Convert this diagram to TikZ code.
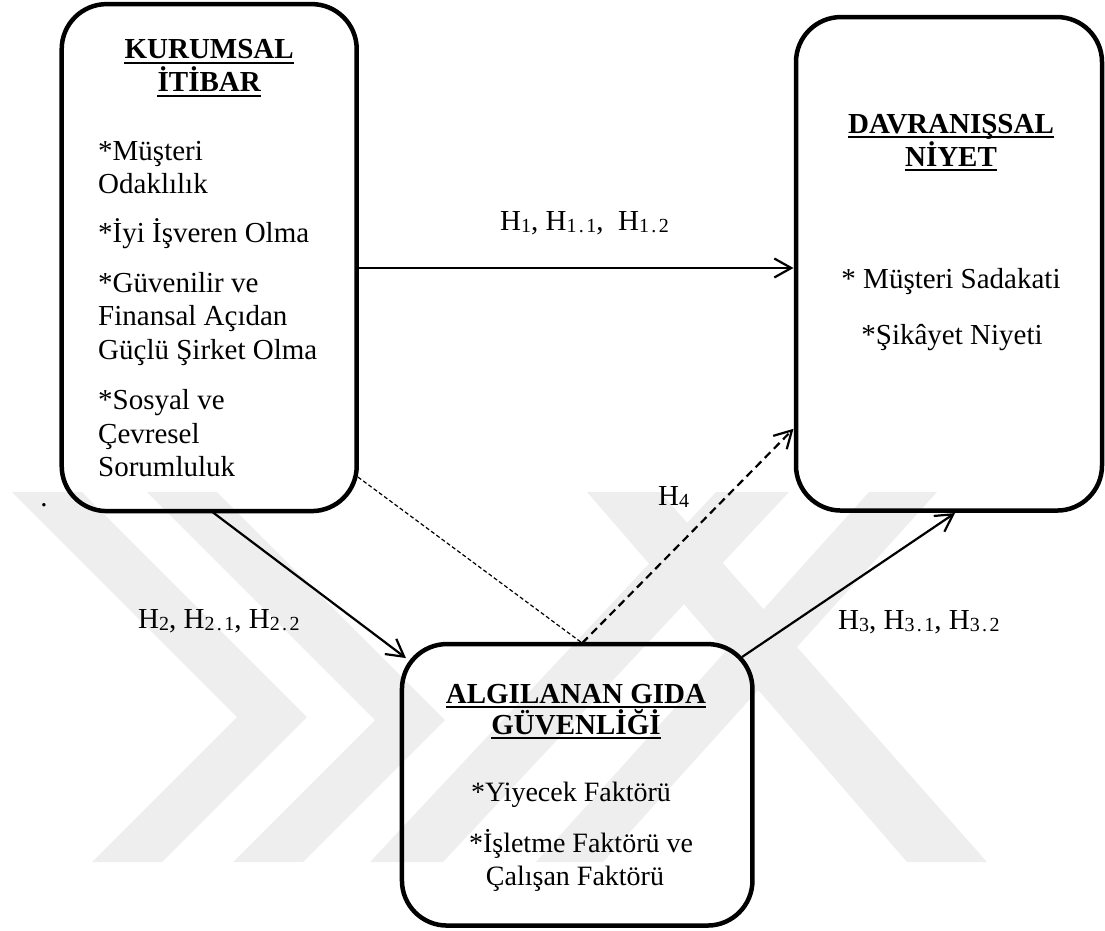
\documentclass[tikz,border=0pt]{standalone}
\usepackage{fontspec}
\setmainfont{Liberation Serif}
\usetikzlibrary{arrows.meta}
\definecolor{wmgray}{RGB}{238,238,238}
% subscript indices of the hypothesis labels
\newcommand{\hsub}[1]{{\fontsize{20}{20}\selectfont\addfontfeature{LetterSpace=12}\raisebox{-2pt}{#1}}}
\tikzset{
  panel/.style={draw, line width=4.5pt, rounded corners=45pt, inner sep=0pt, outer sep=0pt},
  body/.style={inner sep=0pt, font=\fontsize{29}{33}\selectfont},
  bodysm/.style={inner sep=0pt, font=\fontsize{28}{32}\selectfont},
  head/.style={inner sep=0pt, font=\fontsize{29}{33}\selectfont\bfseries},
  headrule/.style={line width=2pt},
  link/.style={line width=2.2pt, -{Straight Barb[length=17pt,width=19pt,line width=2.2pt]}},
  thindash/.style={line width=1.2pt, dash pattern=on 4pt off 2.5pt},
  thickdash/.style={line width=2.2pt, dash pattern=on 8pt off 5pt,
    -{Straight Barb[length=17pt,width=19pt,line width=2.2pt]}},
  hlabel/.style={inner sep=0pt, font=\fontsize{29}{33}\selectfont, anchor=base west},
  wm/.style={fill=wmgray, draw=none},
}
\begin{document}
\begin{tikzpicture}[x=1pt, y=-1pt]
\useasboundingbox (0,0) rectangle (1105,931);

% faint background emblem
\fill[wm] (12,492) -- (82,492) -- (307,717) -- (162,862) -- (92,862) -- (237,717) -- cycle;
\fill[wm] (147,492) -- (217,492) -- (445,720) -- (303,862) -- (233,862) -- (375,720) -- cycle;
\fill[wm] (716,492) -- (789,492) -- (443,862) -- (370,862) -- cycle;
\fill[wm] (587,492) -- (660,492) -- (987,862) -- (907,862) -- cycle;
\fill[wm] (869,492) -- (937,492) -- (603,862) -- (536,862) -- cycle;

% the three construct panels
\node[panel, minimum width=295pt, minimum height=507pt] (L) at (209.2,257.6) {};
\node[panel, minimum width=306pt, minimum height=493.5pt] (R) at (949,263.8) {};
\node[panel, minimum width=350.5pt, minimum height=281.5pt] (B) at (577.2,784.8) {};

% corporate reputation
\node[head, anchor=base] (kt1) at (209.2,59) {KURUMSAL};
\node[head, anchor=base] (kt2) at (209.2,92) {İTİBAR};
\draw[headrule] ([yshift=-4pt]kt1.base west) -- ([yshift=-4pt]kt1.base east);
\draw[headrule] ([yshift=-4pt]kt2.base west) -- ([yshift=-4pt]kt2.base east);
\node[body, anchor=base west] (k1) at (98,160) {*Müşteri};
\node[body, anchor=base west] (k2) at (98,193) {Odaklılık};
\node[body, anchor=base west] (k3) at (98,242) {*İyi İşveren Olma};
\node[body, anchor=base west] (k4) at (98,292) {*Güvenilir ve};
\node[body, anchor=base west] (k5) at (98,325) {Finansal Açıdan};
\node[body, anchor=base west] (k6) at (98,359) {Güçlü Şirket Olma};
\node[body, anchor=base west] (k7) at (98,409) {*Sosyal ve};
\node[body, anchor=base west] (k8) at (98,443) {Çevresel};
\node[body, anchor=base west] (k9) at (98,476) {Sorumluluk};

% behavioural intention
\node[head, anchor=base] (dt1) at (951,133) {DAVRANIŞSAL};
\node[head, anchor=base] (dt2) at (951,166) {NİYET};
\draw[headrule] ([yshift=-4pt]dt1.base west) -- ([yshift=-4pt]dt1.base east);
\draw[headrule] ([yshift=-4pt]dt2.base west) -- ([yshift=-4pt]dt2.base east);
\node[body, anchor=base] (d1) at (951,288) {* Müşteri Sadakati};
\node[body, anchor=base] (d2) at (952,344) {*Şikâyet Niyeti};

% perceived food safety
\node[head, anchor=base] (gt1) at (576,703) {ALGILANAN GIDA};
\node[head, anchor=base] (gt2) at (576,734) {GÜVENLİĞİ};
\draw[headrule] ([yshift=-4pt]gt1.base west) -- ([yshift=-4pt]gt1.base east);
\draw[headrule] ([yshift=-4pt]gt2.base west) -- ([yshift=-4pt]gt2.base east);
\node[bodysm, anchor=base] (g1) at (571,801) {*Yiyecek Faktörü};
\node[bodysm, anchor=base] (g2) at (581,852) {*İşletme Faktörü ve};
\node[bodysm, anchor=base] (g3) at (575,885) {Çalışan Faktörü};

\node[body, anchor=base] (dot) at (44,506) {.};

% hypothesised paths
\coordinate (M) at ([xshift=5pt,yshift=1pt]B.north);
\draw[link] ([yshift=-10.4pt]L.east) -- ([xshift=-2.5pt,yshift=-4.2pt]R.west);
\draw[link] ([xshift=2pt]L.south) -- ([xshift=4pt,yshift=-14pt]B.north west);
\draw[link] ([xshift=-10.5pt,yshift=-13pt]B.north east) -- ([xshift=6pt,yshift=-2.5pt]R.south);
\draw[thindash] ([xshift=1.3pt,yshift=34pt]L.south east) -- (M);
\draw[thickdash] (M) -- ([xshift=-2.5pt,yshift=-165pt]R.west);

% path labels
\node[hlabel] (h1) at (500,230.5) {H\hsub{1}, H\hsub{1.1},\ \ H\hsub{1.2}};
\node[hlabel] (h2) at (138,628) {H\hsub{2}, H\hsub{2.1}, H\hsub{2.2}};
\node[hlabel] (h3) at (838,629) {H\hsub{3}, H\hsub{3.1}, H\hsub{3.2}};
\node[hlabel] (h4) at (658,505) {H\hsub{4}};
\end{tikzpicture}
\end{document}
